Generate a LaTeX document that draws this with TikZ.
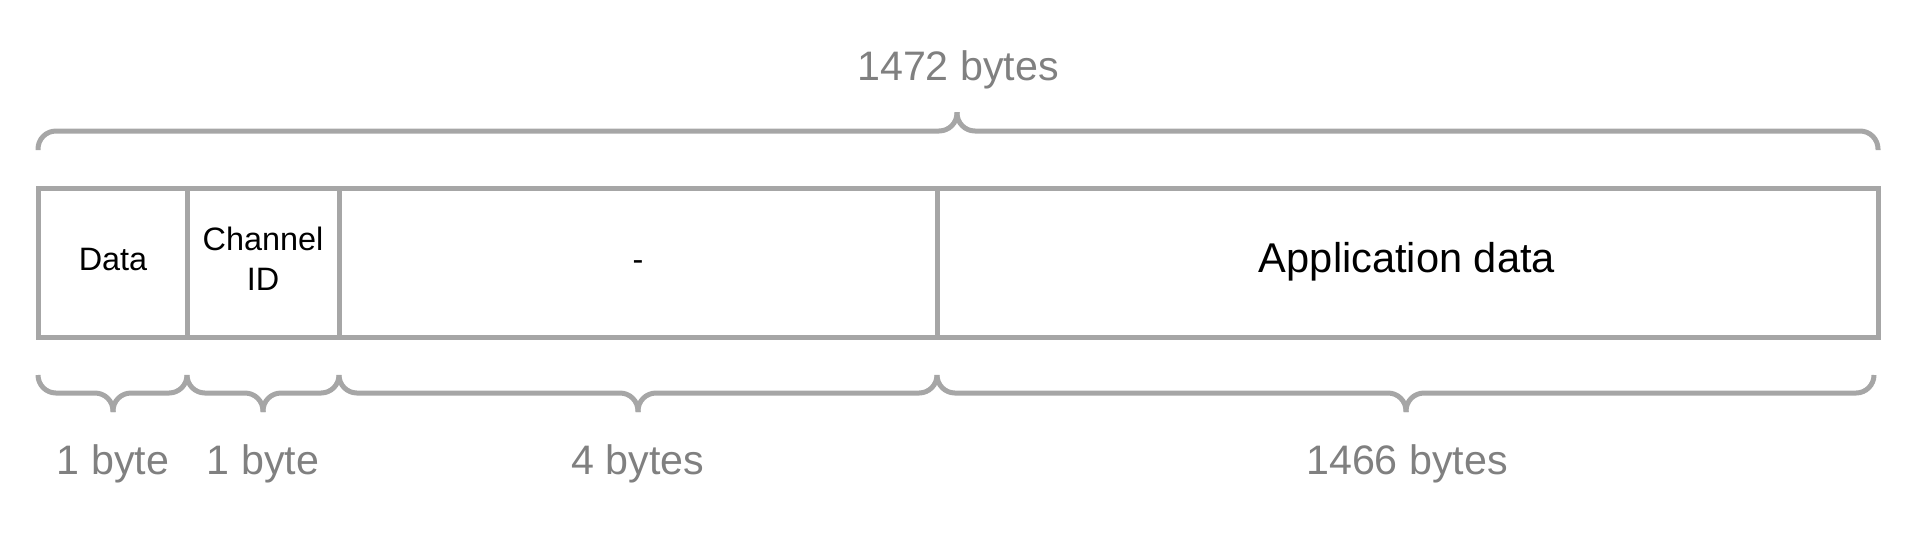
\documentclass[tikz,border=0pt]{standalone}
\usepackage{fontspec}
\setmainfont{Liberation Sans}
\definecolor{linegray}{HTML}{A6A6A6}
\definecolor{textgray}{HTML}{808080}
\tikzset{
  lin/.style={draw=linegray, line width=2.5pt},
  brc/.style={draw=linegray, line width=2.5pt, rounded corners=9pt, line cap=butt},
  biglabel/.style={text=textgray, font=\fontsize{20.6}{24}\selectfont, inner sep=0pt, anchor=base},
  celltext/.style={text=black, font=\fontsize{16.2}{20}\selectfont, inner sep=0pt},
  bigcell/.style={text=black, font=\fontsize{20.8}{24}\selectfont, inner sep=0pt, anchor=base},
}
\begin{document}
\begin{tikzpicture}[x=0.5pt, y=-0.5pt]
\useasboundingbox (0,0) rectangle (1929,538);
% cells
\draw[lin] (38,188) rectangle (1878,337);
\draw[lin] (187,188) -- (187,337);
\draw[lin] (339,188) -- (339,337);
\draw[lin] (937,188) -- (937,337);
\node[celltext, anchor=base] (data) at (113,270) {Data};
\node[celltext, align=center] (chan) at (263,259) {Channel\\ID};
\node[celltext, anchor=base] (dash) at (638,270) {-};
\node[bigcell] (app) at (1407,272) {Application data};
% top brace
\draw[brc] (38,150) -- (38,131) -- (957,131) -- (957,112);
\draw[brc] (1878,150) -- (1878,131) -- (957,131) -- (957,112);
\node[biglabel] (total) at (958,80) {1472 bytes};
% bottom braces
\foreach \a/\b/\m in {38/187/113, 187/339/263, 339/937/638, 937/1874/1406}{
  \draw[brc] (\a,375) -- (\a,393) -- (\m,393) -- (\m,412);
  \draw[brc] (\b,375) -- (\b,393) -- (\m,393) -- (\m,412);
}
\node[biglabel] (b1) at (113,474) {1 byte};
\node[biglabel] (b2) at (263,474) {1 byte};
\node[biglabel] (b3) at (638,474) {4 bytes};
\node[biglabel] (b4) at (1407,474) {1466 bytes};
\end{tikzpicture}
\end{document}
